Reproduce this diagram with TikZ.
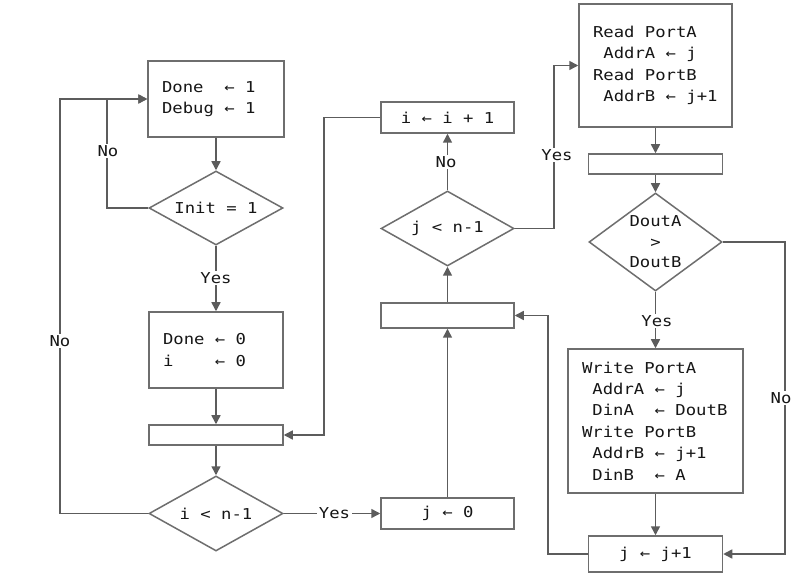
\documentclass[tikz,border=0pt]{standalone}
\usepackage{fontspec}
\newfontfamily\mono[FakeStretch=1.15]{DejaVu Sans Mono}
\usetikzlibrary{arrows.meta,shapes.geometric}
\definecolor{lnc}{HTML}{5C5C5C}
\definecolor{bdc}{HTML}{6E6E6E}
\definecolor{txc}{HTML}{161616}
\newcommand\fixsp{\spaceskip=10.386pt\relax\xspaceskip=10.386pt\relax}
\newcommand\monofont{\mono\fontsize{15pt}{21.4pt}\selectfont\fixsp}
\newcommand\monofontb{\mono\fontsize{15pt}{20.5pt}\selectfont\fixsp}
\begin{document}
\begin{tikzpicture}[x=1pt,y=-1pt,
  every node/.style={font=\monofont, text=txc},
  box/.style={draw=bdc, line width=1.5pt, fill=white, rectangle, inner xsep=14pt, inner ysep=0pt, align=left},
  cbox/.style={draw=bdc, line width=1.5pt, fill=white, rectangle, inner sep=0pt, align=center},
  dia/.style={draw=bdc, line width=1.5pt, fill=white, diamond, inner sep=0pt},
  arr/.style={draw=lnc, line width=1.5pt, -{Triangle[length=9pt,width=9pt]}},
  lbl/.style={fill=white, inner sep=1.5pt}
]
\useasboundingbox (0,0) rectangle (793,577);
\fill[white] (0,0) rectangle (793,577);

% left column
\node[box, minimum width=136pt, minimum height=76pt, text width=108pt] (b1) at (216,99) {\fixsp Done~~← 1\\Debug ← 1};
\node[dia, minimum width=134pt, minimum height=74pt, label=center:{\fixsp Init = 1}] (init) at (216,208) {};
\node[box, minimum width=134pt, minimum height=76pt, text width=106pt] (b2) at (216,350) {\fixsp Done ← 0\\i~~~~← 0};
\node[cbox, minimum width=134pt, minimum height=20pt] (b3) at (216,435) {};
\node[dia, minimum width=134pt, minimum height=75pt, label=center:{\fixsp i < n-1}] (idia) at (216,513.5) {};

% middle column
\node[cbox, minimum width=133pt, minimum height=31pt] (j0) at (447.5,513.5) {\fixsp j ← 0};
\node[cbox, minimum width=133pt, minimum height=25pt] (b4) at (447.5,315.5) {};
\node[dia, minimum width=133pt, minimum height=75pt, label=center:{\fixsp j < n-1}] (jdia) at (447.5,228.5) {};
\node[cbox, minimum width=133pt, minimum height=31pt] (iinc) at (447.5,117.5) {\fixsp i ← i + 1};

% right column
\node[box, minimum width=153pt, minimum height=123pt, text width=125pt] (read) at (655.5,65.5) {\fixsp Read PortA\\~AddrA ← j\\Read PortB\\~AddrB ← j+1};
\node[cbox, minimum width=134pt, minimum height=20pt] (b5) at (655.5,164) {};
\node[dia, minimum width=133pt, minimum height=98pt, label={[align=center, font=\monofontb]center:{DoutA\\>\\DoutB}}] (ddia) at (655.5,242) {};
\node[box, minimum width=175pt, minimum height=144pt, text width=147pt] (write) at (655.5,421) {\fixsp Write PortA\\~AddrA ← j\\~DinA~~← DoutB\\Write PortB\\~AddrB ← j+1\\~DinB~~← A};
\node[cbox, minimum width=134pt, minimum height=36pt] (jinc) at (655.5,554) {\fixsp j ← j+1};

% corner coordinates
\coordinate (c1) at (107,208);
\coordinate (c2) at (60,513.5);
\coordinate (c3) at (324,117.5);
\coordinate (c4) at (554,228.5);
\coordinate (c5) at (785,242);
\coordinate (c6) at (548,554);

% connectors
\draw[arr] (b1.south) -- (init.north);
\draw[arr] (init.west) -- (c1) |- (b1.west);
\draw[arr] (init.south) -- (b2.north);
\draw[arr] (b2.south) -- (b3.north);
\draw[arr] (b3.south) -- (idia.north);
\draw[arr] (idia.west) -- (c2) |- (b1.west);
\draw[arr] (idia.east) -- (j0.west);
\draw[arr] (j0.north) -- (b4.south);
\draw[arr] (b4.north) -- (jdia.south);
\draw[arr] (jdia.north) -- (iinc.south);
\draw[arr] (iinc.west) -- (c3) |- (b3.east);
\draw[arr] (jdia.east) -- (c4) |- (read.west);
\draw[arr] (read.south) -- (b5.north);
\draw[arr] (b5.south) -- (ddia.north);
\draw[arr] (ddia.east) -- (c5) |- (jinc.east);
\draw[arr] (ddia.south) -- (write.north);
\draw[arr] (write.south) -- (jinc.north);
\draw[arr] (jinc.west) -- (c6) |- (b4.east);

% labels
\node[lbl] (l1) at (108,151) {No};
\node[lbl] (l2) at (60,341) {No};
\node[lbl] (l3) at (216,278) {Yes};
\node[lbl] (l4) at (334.5,513.5) {Yes};
\node[lbl] (l5) at (446,162) {No};
\node[lbl] (l6) at (557,155) {Yes};
\node[lbl] (l7) at (781,398) {No};
\node[lbl] (l8) at (657,321) {Yes};
\end{tikzpicture}
\end{document}
